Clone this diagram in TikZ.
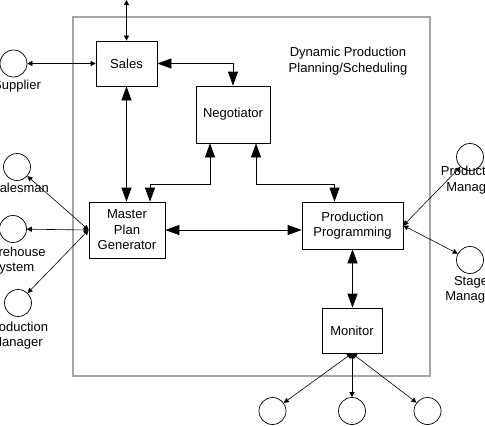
\documentclass[tikz,border=0pt]{standalone}
\usepackage{fontspec}
\setmainfont{Liberation Sans}
\usetikzlibrary{arrows.meta}
\begin{document}
\begin{tikzpicture}[x=1pt,y=-1pt,
  every node/.style={font=\fontsize{13}{15.5}\selectfont},
  box/.style={draw=black,line width=0.7pt,minimum width=#1,align=center,inner sep=0pt},
  ent/.style={draw=black,line width=0.7pt,circle,minimum size=27pt,inner sep=0pt},
  lab/.style={align=center,inner sep=0pt},
  big/.style={line width=0.7pt,{Triangle[length=14pt,width=10pt]}-{Triangle[length=14pt,width=10pt]}},
  small/.style={line width=0.6pt,{Triangle[length=5pt,width=5pt]}-{Triangle[length=5pt,width=5pt]}}]
\useasboundingbox (0,0) rectangle (485,426);
% frame
\draw[gray!70,line width=1.2pt] (73,17) rectangle (430,376);
\node[lab] (title) at (348,61) {Dynamic Production\\Planning/Scheduling};
% boxes
\node[box=61pt,minimum height=45pt] (sales) at (126.5,63.5) {Sales};
\node[box=74pt,minimum height=57pt] (neg) at (233,114.5) {Negotiator};
\node[box=76pt,minimum height=56pt] (mpg) at (127,230) {Master\\Plan\\Generator};
\node[box=101pt,minimum height=47pt] (pp) at (352.5,225.5) {Production\\Programming};
\node[box=60pt,minimum height=45pt] (mon) at (352,330.5) {Monitor};
% external entities
\node[ent] (sup) at (13.5,63.5) {};
\node[ent] (sal) at (17,167) {};
\node[ent] (wh) at (13,229) {};
\node[ent] (pm1) at (18,303) {};
\node[ent] (pm2) at (470,157) {};
\node[ent] (stg) at (470,260) {};
\node[ent] (b1) at (272.5,411) {};
\node[ent] (b2) at (352,411) {};
\node[ent] (b3) at (427.5,411) {};
\coordinate (top) at (126.5,0);
% labels
\node[lab] (lsup) at (17,86) {Supplier};
\node[lab] (lsal) at (20,188) {Salesman};
\node[lab] (lwh) at (12.5,260.5) {Warehouse\\System};
\node[lab] (lpm1) at (17,335.5) {Production\\Manager};
\node[lab] (lpm2) at (472,180) {Production\\Manager};
\node[lab] (lstg) at (471,290) {Stage\\Manager};
% connectors
\draw[small] (top) -- (sales.north);
\draw[small] (sup) -- (sales.west);
\draw[big] (sales.east) -| (neg.north);
\draw[big] (sales.south) -- (sales.south |- mpg.north);
\draw[big] ([xshift=-23pt]neg.south) -- ++(0,41) -| ([xshift=23pt]mpg.north);
\draw[big] ([xshift=23pt]neg.south) -- ++(0,41) -| ([xshift=-18pt]pp.north);
\draw[big] (mpg.east) -- (mpg.east -| pp.west);
\draw[big] (pp.south) -- (pp.south |- mon.north);
\draw[small] (mpg.west) -- (sal);
\draw[small] (mpg.west) -- (wh);
\draw[small] (mpg.west) -- (pm1);
\draw[small] (pp.east) -- (pm2);
\draw[small] (pp.east) -- (stg);
\draw[small] (mon.south) -- (b1);
\draw[small] (mon.south) -- (b2);
\draw[small] (mon.south) -- (b3);
\end{tikzpicture}
\end{document}
